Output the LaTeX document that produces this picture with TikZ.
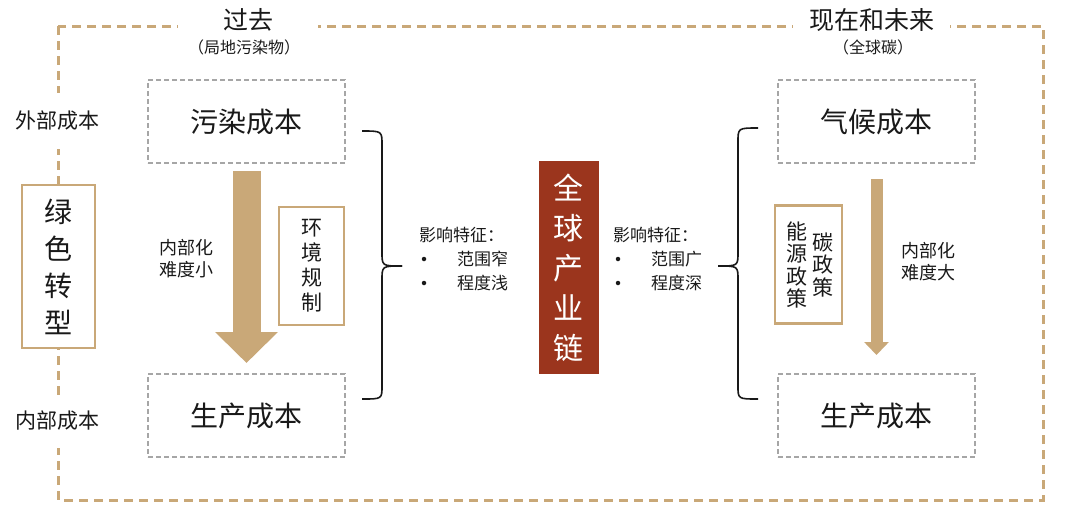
\documentclass[tikz,border=0pt]{standalone}
\usepackage{fontspec}
\setmainfont{Noto Sans CJK SC}
\usetikzlibrary{calc}
\usetikzlibrary{arrows.meta}

\definecolor{tan}{RGB}{201,168,120}
\definecolor{chainred}{RGB}{155,53,29}
\definecolor{boxgray}{RGB}{166,166,166}
\definecolor{ink}{RGB}{25,25,25}

\tikzset{
  frame/.style={draw=tan, line width=3pt, dash pattern=on 9pt off 6pt},
  costbox/.style={draw=boxgray, line width=2pt, dash pattern=on 5pt off 3pt,
    minimum width=197pt, minimum height=83pt, text=ink,
    font=\fontsize{28}{30}\selectfont},
  tanbox/.style={draw=tan, line width=2.4pt, fill=white, inner sep=0pt, align=center, text=ink},
  sidelabel/.style={fill=white, text=ink, font=\fontsize{21}{24}\selectfont, inner xsep=2pt},
  title/.style={fill=white, text=ink, font=\fontsize{25}{27}\selectfont, inner ysep=2pt},
  subtitle/.style={text=ink, font=\fontsize{16}{18}\selectfont},
  note/.style={text=ink, align=left, font=\fontsize{18}{22}\selectfont},
  feat/.style={text=ink, anchor=west, inner sep=0pt, font=\fontsize{17}{20}\selectfont},
  dot/.style={circle, fill=ink, inner sep=0pt, minimum size=4.5pt},
  brace/.style={draw=ink, line width=1.6pt},
}

\begin{document}
\begin{tikzpicture}[x=1pt, y=-1pt]
    \useasboundingbox (0,0) rectangle (1080,507);
    \draw[frame] (58,26) rectangle (1043,500);
    \node[title, minimum width=140pt] (past) at (248,20) {过去};
    \node[subtitle] (pastsub) at (244,47) {（局地污染物）};
    \node[title, minimum width=157pt] (now) at (871.5,20) {现在和未来};
    \node[subtitle] (nowsub) at (873,47) {（全球碳）};
    \node[sidelabel, minimum height=56pt] (ext) at (58,121) {外部成本};
    \node[sidelabel, minimum height=53pt] (int) at (58,421) {内部成本};
    \node[tanbox, minimum width=73pt, minimum height=163pt,
      font=\fontsize{28}{37}\selectfont] (green) at (58.5,266.5) {绿\\色\\转\\型};
      % left column
    \node[costbox] (pol) at (246.5,121.5) {污染成本};
    \node[costbox] (prodL) at (246.5,415.5) {生产成本};
    \coordinate (polA) at ($(pol.south)+(0,7)$);
    \coordinate (prodLA) at ($(prodL.north)+(0,-10)$);
    \draw[tan, line width=28pt, -{Triangle[width=61pt,length=31pt]}] (polA) -- (prodLA);
    \node[note] (easy) at (186,259) {内部化\\难度小};
    \node[tanbox, minimum width=65pt, minimum height=118pt,
      font=\fontsize{21}{25}\selectfont] (env) at (311.5,266) {环\\境\\规\\制};
    \draw[brace] (362,131) .. controls (382,131) .. (382,145) -- (382,252)
      .. controls (382,266) .. (402,266);
    \draw[brace] (402,266) .. controls (382,266) .. (382,280) -- (382,386)
      .. controls (382,399) .. (362,399);
      % middle
    \node[feat] (featL) at (419,235) {影响特征：};
    \node[dot] (dotL1) at (424,259) {};
    \node[feat] (narrow) at (457,259) {范围窄};
    \node[dot] (dotL2) at (424,283) {};
    \node[feat] (shallow) at (457,283) {程度浅};
    \node[fill=chainred, text=white, minimum width=60pt, minimum height=213pt,
      inner sep=0pt, align=center, font=\fontsize{30}{40}\selectfont] (chain) at (568.5,267.5)
      {全\\球\\产\\业\\链};
    \node[feat] (featR) at (613,235) {影响特征：};
    \node[dot] (dotR1) at (618,259) {};
    \node[feat] (wide) at (651,259) {范围广};
    \node[dot] (dotR2) at (618,283) {};
    \node[feat] (deep) at (651,283) {程度深};
    \draw[brace] (758,128) .. controls (738,128) .. (738,142) -- (738,252)
      .. controls (738,266) .. (718,266);
    \draw[brace] (718,266) .. controls (738,266) .. (738,280) -- (738,386)
      .. controls (738,399) .. (758,399);
      % right column
    \node[costbox] (clim) at (876.5,121.5) {气候成本};
    \node[costbox] (prodR) at (876.5,415.5) {生产成本};
    \coordinate (climA) at ($(clim.south)+(0,15)$);
    \coordinate (prodRA) at ($(prodR.north)+(0,-18)$);
    \draw[tan, line width=12pt, -{Triangle[width=24pt,length=13pt]}] (climA) -- (prodRA);
    \node[tanbox, minimum width=67pt, minimum height=118pt] (policy) at (808.5,264.5) {};
    \node[align=center, text=ink, inner sep=0pt,
      font=\fontsize{21}{22.5}\selectfont] (energy) at (797,265) {能\\源\\政\\策};
    \node[align=center, text=ink, inner sep=0pt,
      font=\fontsize{21}{22.5}\selectfont] (carbon) at (823,265) {碳\\政\\策};
    \node[note] (hard) at (928,262) {内部化\\难度大};
\end{tikzpicture}
\end{document}
